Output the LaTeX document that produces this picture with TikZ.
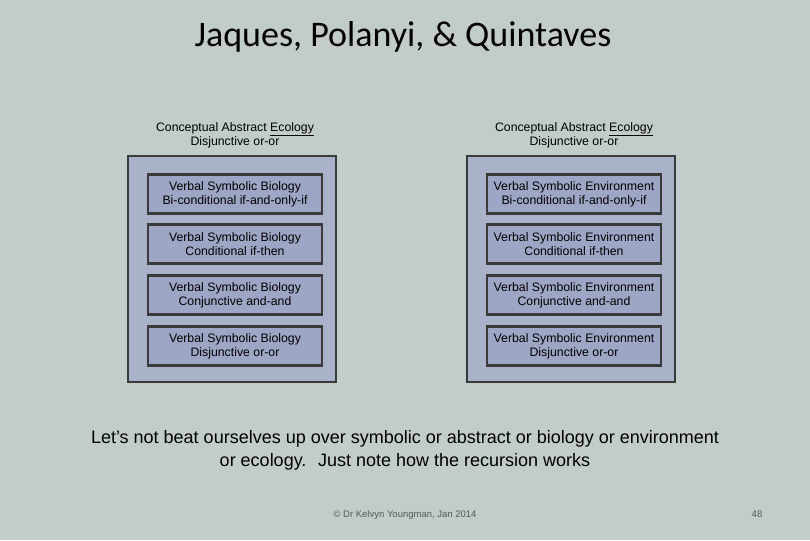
\documentclass[tikz,border=0pt]{standalone}
\usepackage{fontspec}
\setmainfont{Liberation Sans}
\newfontfamily\titlefont{Carlito}
\definecolor{bg}{HTML}{C1CCCB}
\definecolor{outerf}{HTML}{AAB2C9}
\definecolor{innerf}{HTML}{9EA6C6}
\definecolor{edge}{HTML}{3A3A3A}
\begin{document}
\begin{tikzpicture}[x=1pt,y=-1pt,
 outerbox/.style={draw=edge,line width=2.2pt,fill=outerf},
 innerbox/.style={draw=edge,line width=2.2pt,fill=innerf,minimum width=174pt,minimum height=39pt,align=center,font=\fontsize{12.3}{14}\selectfont},
 head/.style={align=center,font=\fontsize{12.3}{14}\selectfont}]
\fill[bg] (0,0) rectangle (810,540);
\useasboundingbox (0,0) rectangle (810,540);
\node[font=\titlefont\fontsize{36}{40}\selectfont] (title) at (403,37) {Jaques, Polanyi, \& Quintaves};
\foreach \s/\cx/\w in {L/232/Biology, R/571/Environment}{
 \node[head] (h\s) at (\cx+3,135) {Conceptual Abstract \underline{Ecology}\\Disjunctive or-or};
 \draw[outerbox] (\cx-104,156) rectangle (\cx+104,382);
 \node[innerbox] (a\s) at (\cx+3,194) {Verbal Symbolic \w\\Bi-conditional if-and-only-if};
 \node[innerbox] (b\s) at (\cx+3,244) {Verbal Symbolic \w\\Conditional if-then};
 \node[innerbox] (c\s) at (\cx+3,295) {Verbal Symbolic \w\\Conjunctive and-and};
 \node[innerbox] (d\s) at (\cx+3,346) {Verbal Symbolic \w\\Disjunctive or-or};
}
\node[align=center,font=\fontsize{18}{23}\selectfont] (note) at (405,450) {Let’s not beat ourselves up over symbolic or abstract or biology or environment\\or ecology.~ Just note how the recursion works};
\node[font=\fontsize{9.5}{11}\selectfont,text=gray!70!black] (foot) at (405,515) {© Dr Kelvyn Youngman, Jan 2014};
\node[font=\fontsize{9.5}{11}\selectfont,text=gray!70!black] (num) at (757,514) {48};
\end{tikzpicture}
\end{document}
